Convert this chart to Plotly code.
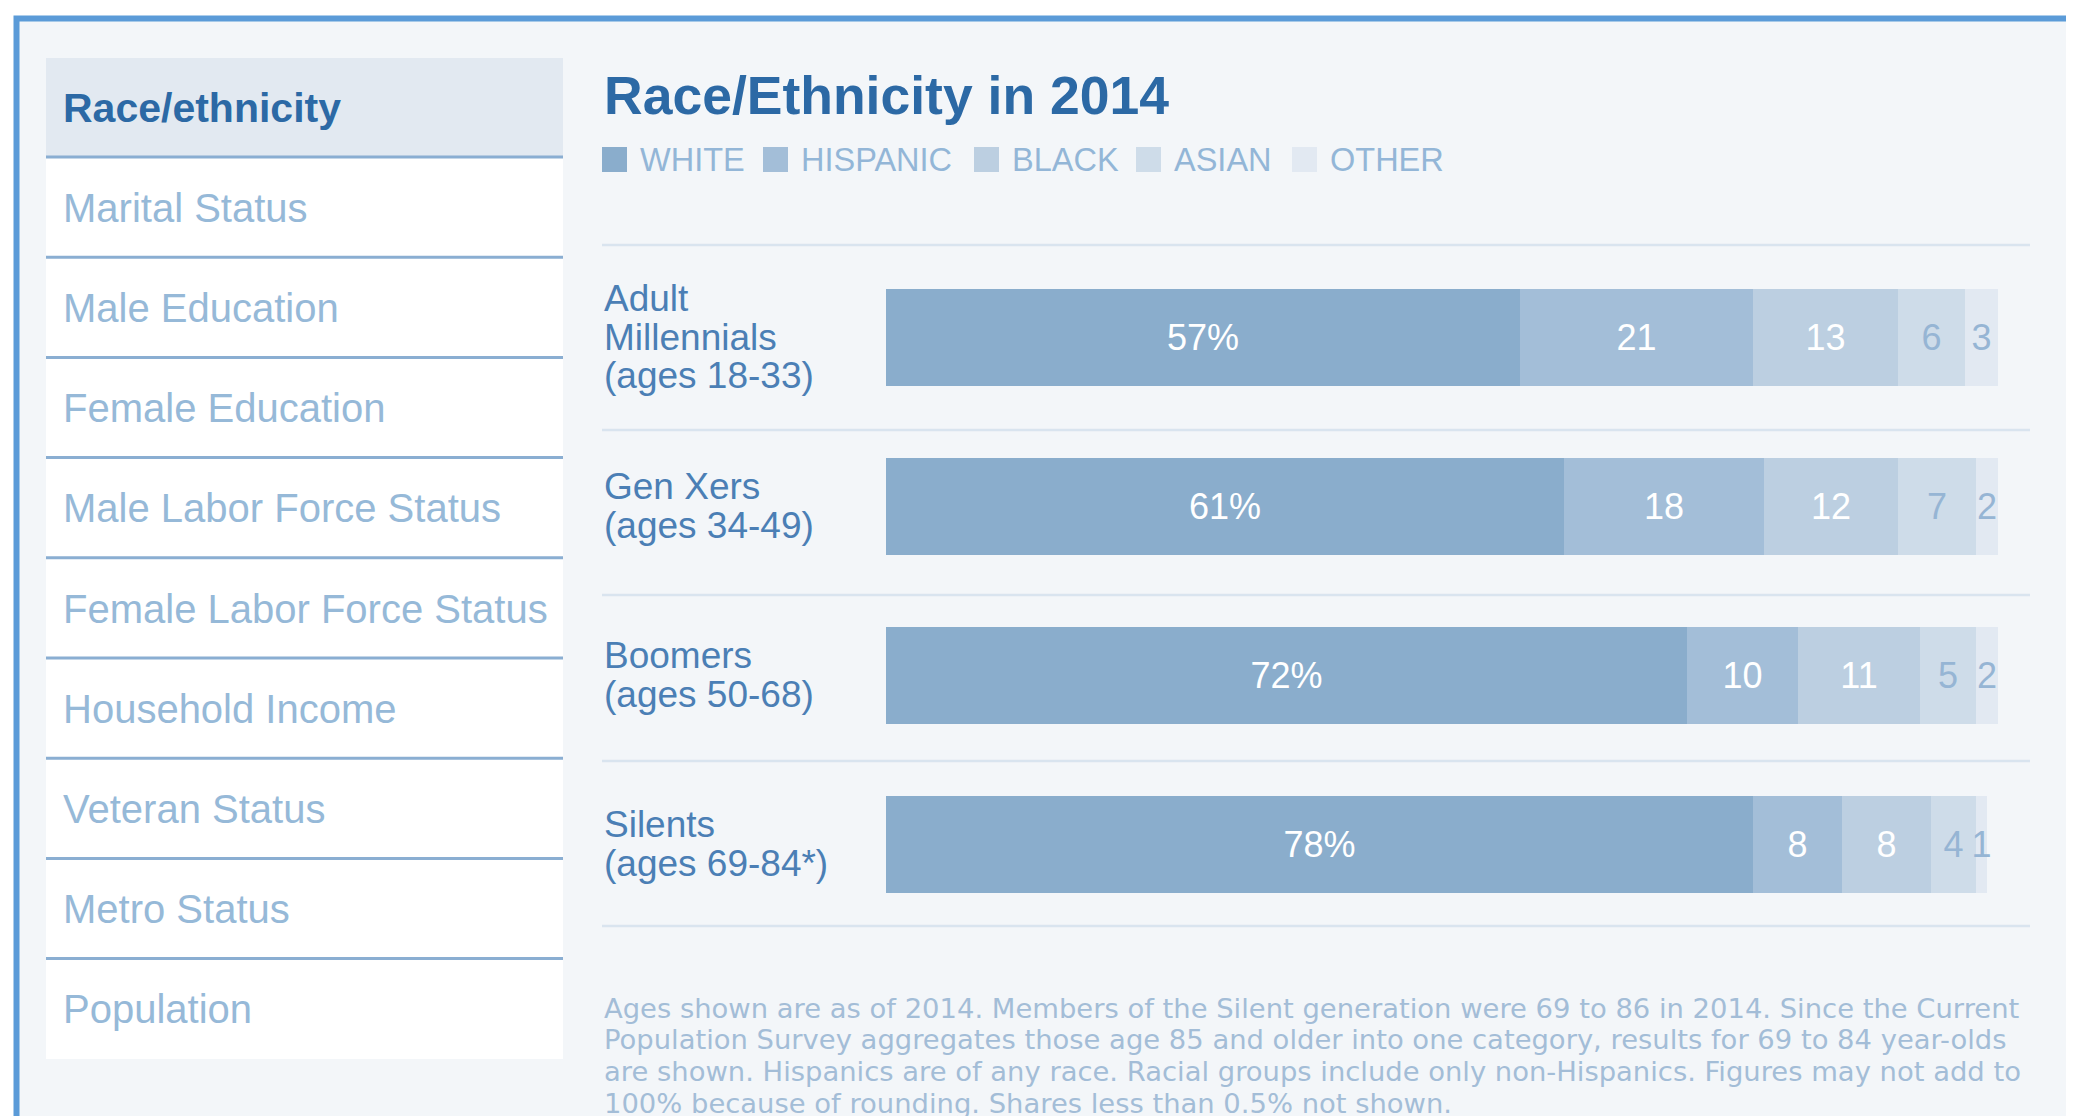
import plotly.graph_objects as go

W, H = 2074, 1116
OFF = 8  # page body margin compensation
FONT = "Liberation Sans"
NOTE_FONT = "DejaVu Sans"

# ---------------- data ----------------
generations = ["Adult<br>Millennials<br>(ages 18-33)", "Gen Xers<br>(ages 34-49)",
               "Boomers<br>(ages 50-68)", "Silents<br>(ages 69-84*)"]
white = [57, 61, 72, 78]
hispanic = [21, 18, 10, 8]
black = [13, 12, 11, 8]
asian = [6, 7, 5, 4]
other = [3, 2, 2, 1]

series_names = ["WHITE", "HISPANIC", "BLACK", "ASIAN", "OTHER"]
series_values = [white, hispanic, black, asian, other]

menu_items = ["Race/ethnicity", "Marital Status", "Male Education", "Female Education",
              "Male Labor Force Status", "Female Labor Force Status", "Household Income",
              "Veteran Status", "Metro Status", "Population"]
title_text = "Race/Ethnicity in 2014"
footnote_lines = [
    "Ages shown are as of 2014. Members of the Silent generation were 69 to 86 in 2014. Since the Current",
    "Population Survey aggregates those age 85 and older into one category, results for 69 to 84 year-olds",
    "are shown. Hispanics are of any race. Racial groups include only non-Hispanics. Figures may not add to",
    "100% because of rounding. Shares less than 0.5% not shown.",
]

# ---------------- styles ----------------
series_colors = ["#8aadcc", "#a3bed8", "#bccfe1", "#cedce9", "#e2e9f2"]
label_colors = ["#ffffff", "#ffffff", "#ffffff", "#96b5d4", "#96b5d4"]
BG = "#f3f6f9"
DARK = "#2c69a5"
MID = "#4b7fb5"
LIGHT = "#93b6d7"


def px(x):
    return (x - OFF) / W


def py(y):
    return 1 - (y - OFF) / H


fig = go.Figure()

for i, (name, vals) in enumerate(zip(series_names, series_values)):
    fig.add_trace(go.Bar(
        y=generations, x=vals, orientation="h", name=name,
        marker=dict(color=series_colors[i], line=dict(width=0)),
        width=0.574,
        texttemplate="%{x}%" if i == 0 else "%{x}",
        textposition="inside", insidetextanchor="middle", textangle=0,
        textfont=dict(family=FONT, size=36, color=label_colors[i]),
        showlegend=False, hoverinfo="skip",
    ))

shapes = []
annotations = []

# outer frame
shapes.append(dict(type="rect", xref="paper", yref="paper", layer="below",
                   x0=px(16.5), x1=px(2300), y0=py(1400), y1=py(18.5),
                   fillcolor=BG, line=dict(color="#5b9bd8", width=6)))

# sidebar
SB_X0, SB_X1 = 46, 563
shapes.append(dict(type="rect", xref="paper", yref="paper", layer="below",
                   x0=px(SB_X0), x1=px(SB_X1), y0=py(1059), y1=py(58),
                   fillcolor="#ffffff", line=dict(width=0)))
shapes.append(dict(type="rect", xref="paper", yref="paper", layer="below",
                   x0=px(SB_X0), x1=px(SB_X1), y0=py(157), y1=py(58),
                   fillcolor="#e2e9f1", line=dict(width=0)))
pitch = 100.2
for k in range(len(menu_items) - 1):
    yy = 157 + pitch * k
    shapes.append(dict(type="line", xref="paper", yref="paper", layer="below",
                       x0=px(SB_X0), x1=px(SB_X1), y0=py(yy), y1=py(yy),
                       line=dict(color="#8aaed2", width=3)))
for k, item in enumerate(menu_items):
    yc = 107.5 + pitch * k
    annotations.append(dict(
        xref="paper", yref="paper", x=px(61), y=py(yc), xanchor="left", yanchor="middle",
        text=f"<b>{item}</b>" if k == 0 else item, showarrow=False,
        font=dict(family=FONT, size=41 if k == 0 else 40, color=DARK if k == 0 else "#96b9d8")))

# title
annotations.append(dict(xref="paper", yref="paper", x=px(602), y=py(96), xanchor="left",
                        yanchor="middle", text=f"<b>{title_text}</b>", showarrow=False,
                        font=dict(family=FONT, size=53.5, color=DARK)))

# legend
legend_sq_x = [602, 763, 974, 1136, 1292]
for i, name in enumerate(series_names):
    x0 = legend_sq_x[i]
    shapes.append(dict(type="rect", xref="paper", yref="paper", layer="below",
                       x0=px(x0), x1=px(x0 + 25), y0=py(172), y1=py(147),
                       fillcolor=series_colors[i], line=dict(width=0)))
    annotations.append(dict(xref="paper", yref="paper", x=px(x0 + 36), y=py(160),
                            xanchor="left", yanchor="middle", text=name, showarrow=False,
                            font=dict(family=FONT, size=32.5, color=LIGHT)))

# separators
for yy in [245, 430, 595, 761, 926]:
    shapes.append(dict(type="line", xref="paper", yref="paper", layer="below",
                       x0=px(602), x1=px(2030), y0=py(yy), y1=py(yy),
                       line=dict(color="#d9e4ef", width=2.5)))

# row labels
line_pitch = 38.3
for g in generations:
    parts = g.split("<br>")
    n = len(parts)
    for k, part in enumerate(parts):
        off = (k - (n - 1) / 2) * line_pitch
        annotations.append(dict(xref="paper", yref="y", x=px(602), y=g, yshift=-off,
                                xanchor="left", yanchor="middle", text=part, showarrow=False,
                                font=dict(family=FONT, size=37, color=MID)))

# footnote
for k, line in enumerate(footnote_lines):
    annotations.append(dict(xref="paper", yref="paper", x=px(602), y=py(1008 + 31.7 * k),
                            xanchor="left", yanchor="middle", text=line, showarrow=False,
                            font=dict(family=NOTE_FONT, size=27.4, color="#a3bdd7")))

fig.update_layout(
    width=W, height=H, margin=dict(l=0, r=0, t=0, b=0),
    paper_bgcolor="#ffffff", plot_bgcolor="rgba(0,0,0,0)",
    barmode="stack", bargap=0,
    xaxis=dict(domain=[px(886), px(1998)], range=[0, 100], visible=False, fixedrange=True),
    yaxis=dict(domain=[py(928.5), py(252.5)], type="category", categoryorder="array",
               categoryarray=generations, range=[3.5, -0.5], visible=False, fixedrange=True),
    uniformtext=dict(minsize=36, mode="show"),
    shapes=shapes, annotations=annotations,
    showlegend=False,
)

fig.write_html("out.html", config=dict(displayModeBar=False))
